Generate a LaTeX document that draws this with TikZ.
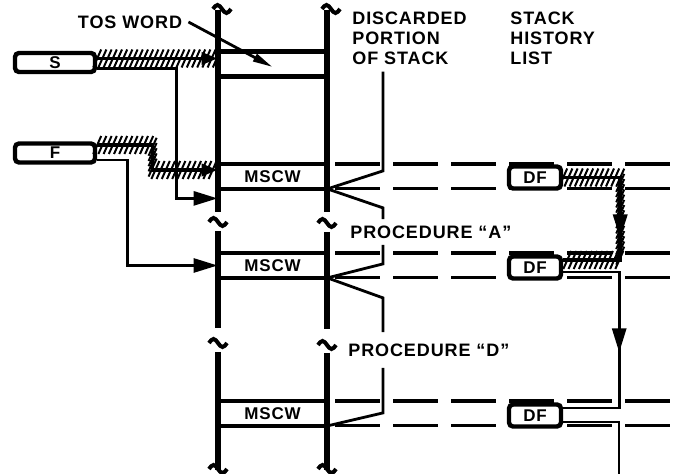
\documentclass[tikz,border=0pt]{standalone}
\usepackage{fontspec}
\setmainfont[LetterSpace=5]{Liberation Sans}
\usepackage{tikz}
\usetikzlibrary{arrows.meta,positioning,calc,decorations.markings}
\newcommand{\capsfont}{\fontsize{9}{10}\selectfont\bfseries}
\newcommand{\wordfont}{\fontsize{8.5}{10}\selectfont\bfseries}
\tikzset{
  reg/.style={draw, rounded corners=2pt, line width=2.2pt, fill=white, minimum width=40pt, minimum height=9.5pt, inner sep=0pt, font=\wordfont},
  dfbox/.style={reg, minimum width=26pt, minimum height=11pt},
  word/.style={minimum width=54.5pt, minimum height=12pt, inner sep=0pt, font=\wordfont},
  txt/.style={font=\capsfont, align=left, inner sep=3pt},
  stackline/.style={line width=2.6pt},
  wordline/.style={line width=2.2pt},
  thin/.style={line width=1.4pt},
  dashrow/.style={line width=1.6pt, dash pattern=on 22.5pt off 6.5pt},
  tipA/.style={-{Triangle[length=12pt,width=7pt]}},
  tipH/.style={-{Triangle[length=8pt,width=6pt]}},
  hatch/.style={line width=1.8pt, postaction={decorate, decoration={markings,
    mark=between positions 0 and 1 step 2.6pt with {\pgftransformresetnontranslations
      \draw[line width=1pt, -] (-2pt,-4.5pt) -- (2pt,4.5pt);}}}},
  midtip/.style={postaction={decorate, decoration={markings,
    mark=at position #1 with {\arrow{Triangle[length=12pt,width=7pt]}}}}},
  brk/.pic={\draw[line width=2pt, -] (-9,0) sin (-4.5,-4) cos (0,0) sin (4.5,4) cos (9,0);},
}

\begin{document}
\begin{tikzpicture}[x=0.5pt, y=-0.5pt]
  \useasboundingbox (0,0) rectangle (674,474);
  \coordinate (edge) at (674,0);
  \coordinate (bx) at (383,0);
  % the stack
  \draw[stackline] (218,10) -- (218,212) (218,231) -- (218,328) (218,352) -- (218,470);
  \draw[stackline] (327,10) -- (327,212) (327,232) -- (327,329) (327,353) -- (327,470);
  \pic at (222,9) {brk};
  \pic at (218,222) {brk};
  \pic at (218,343) {brk};
  \pic at (218,469) {brk};
  \pic at (331,9) {brk};
  \pic at (327,223) {brk};
  \pic at (327,345) {brk};
  \pic at (327,469) {brk};
  \node[word] (tos) at (272.5,64) {};
  \node[word] (mscw1) at (272.5,176.5) {MSCW};
  \node[word] (mscw2) at (272.5,265.5) {MSCW};
  \node[word] (mscw3) at (272.5,413.5) {MSCW};
  \draw[wordline] (tos.north west) -- (tos.north east) (tos.south west) -- (tos.south east);
  \draw[wordline] (mscw1.north west) -- (mscw1.north east) (mscw1.south west) -- (mscw1.south east);
  \draw[wordline] (mscw2.north west) -- (mscw2.north east) (mscw2.south west) -- (mscw2.south east);
  \draw[wordline] (mscw3.north west) -- (mscw3.north east) (mscw3.south west) -- (mscw3.south east);
  % history list rows
  \draw[dashrow] ($(mscw1.north east)+(8,0)$) -- (mscw1.north east -| edge);
  \draw[dashrow] ($(mscw1.south east)+(8,0)$) -- (mscw1.south east -| edge);
  \draw[dashrow] ($(mscw2.north east)+(8,0)$) -- (mscw2.north east -| edge);
  \draw[dashrow] ($(mscw2.south east)+(8,0)$) -- (mscw2.south east -| edge);
  \draw[dashrow] ($(mscw3.north east)+(8,0)$) -- (mscw3.north east -| edge);
  \draw[dashrow] ($(mscw3.south east)+(8,0)$) -- (mscw3.south east -| edge);
  \node[dfbox] (df1) at (535,177.5) {DF};
  \node[dfbox] (df2) at (535,267.5) {DF};
  \node[dfbox] (df3) at (535,415.5) {DF};
  \coordinate (dfnext) at (619,474);
  % registers
  \node[reg] (sreg) at (55,62.5) {S};
  \node[reg] (freg) at (55,153) {F};
  % labels
  \node[txt] (tosword) at (130,22) {TOS WORD};
  \node[txt, anchor=north west] (discard) at (346,6) {DISCARDED\\PORTION\\OF STACK};
  \node[txt, anchor=north west] (history) at (504,6) {STACK\\HISTORY\\LIST};
  \node[txt, anchor=west] (procA) at (344,232) {PROCEDURE ``A''};
  \node[txt, anchor=west, inner ysep=5.5pt] (procD) at (342,350) {PROCEDURE ``D''};
  % pointers
  \draw[hatch, tipH] ($(sreg.east)+(0,-4)$) -- ($(tos.west)+(0,-5.5)$);
  \draw[thin, tipA] ($(sreg.east)+(0,6)$) -| ($(mscw1.south west)+(-41,9.5)$) -- ($(mscw1.south west)+(0,9.5)$);
  \draw[hatch, tipH] ($(freg.east)+(0,-8)$) -| ($(mscw1.west)+(-65,-6.5)$) -- ($(mscw1.west)+(0,-6.5)$);
  \draw[thin, tipA] ($(freg.east)+(0,7)$) -| ($(mscw2.west)+(-90,0)$) -- (mscw2.west);
  \draw[thin, -{Triangle[length=10pt,width=4pt]}] (tosword.east) -- ($(tos.center)+(0,3)$);
  % brackets
  \draw[thin] (discard.south -| bx) -- ($(bx |- mscw1.south)+(0,-18)$) -- (mscw1.south east);
  \draw[thin] (mscw1.south east) -- ($(bx |- mscw1.south)+(0,19)$) -- (procA.north -| bx);
  \draw[thin] (procA.south -| bx) -- ($(bx |- mscw2.south)+(0,-14)$) -- (mscw2.south east);
  \draw[thin] (mscw2.south east) -- ($(bx |- mscw2.south)+(0,20)$) -- (procD.north -| bx);
  \draw[thin] (procD.south -| bx) -- ($(bx |- mscw3.south)+(0,-13)$) -- (mscw3.south east);
  % stack history links
  \draw[hatch, midtip=.6] (df1.east) -| ($(df2.east)+(57,-7.5)$) -- ($(df2.east)+(0,-7.5)$);
  \draw[thin, midtip=.55] ($(df2.east)+(0,4.5)$) -| ($(df3.east)+(56,-7.5)$) -- ($(df3.east)+(0,-7.5)$);
  \draw[thin] ($(df3.east)+(0,6.5)$) -| (dfnext);
\end{tikzpicture}
\end{document}
